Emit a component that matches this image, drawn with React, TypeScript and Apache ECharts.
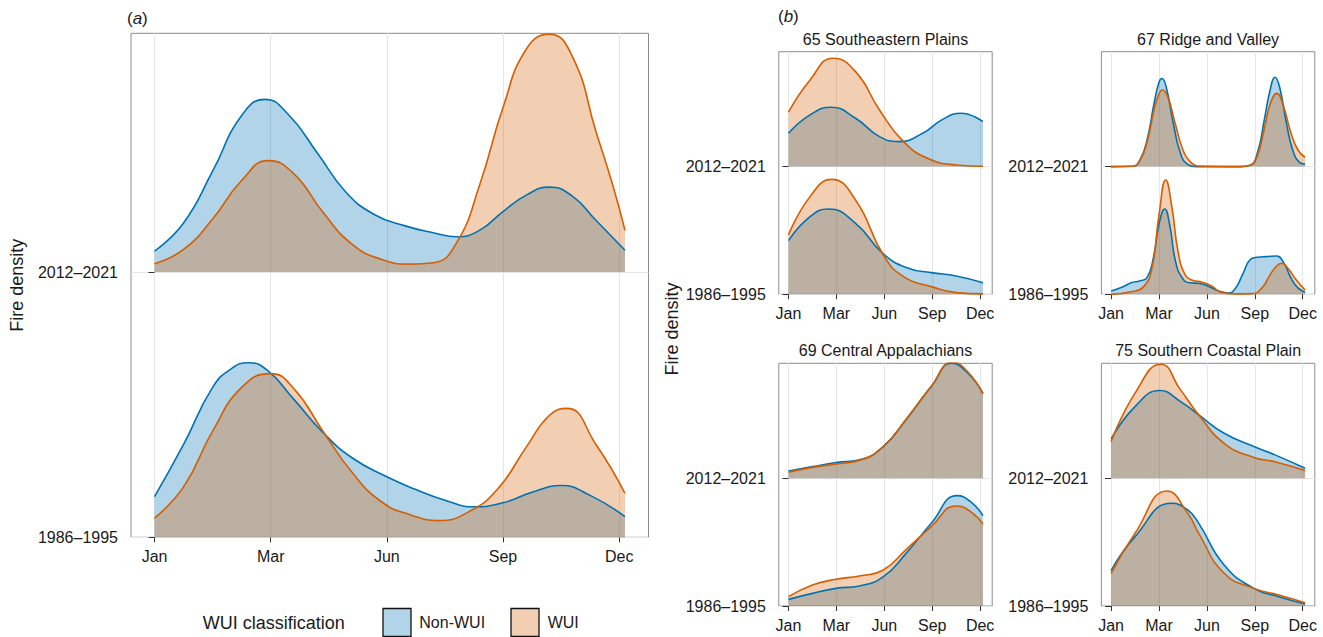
import React, { useEffect, useRef } from 'react';
import * as echarts from 'echarts';

// ---------- data ----------
const monthTicks = ['Jan', 'Mar', 'Jun', 'Sep', 'Dec'];
const tickPositions = [0, 1, 2, 3, 4];
const periods = ['1986–1995', '2012–2021'];
const classes = ['Non-WUI', 'WUI'];
const panelTitles = ['65 Southeastern Plains', '67 Ridge and Valley', '69 Central Appalachians', '75 Southern Coastal Plain'];

// [x position on month scale, density height above ridge baseline]
// Panel (a): all ecoregions
const aEarlyNonWui = [[0, 0.153], [0.25, 0.35], [0.5, 0.565], [0.66, 0.635], [0.81, 0.658], [0.97, 0.63], [1.2, 0.52], [1.45, 0.395], [1.7, 0.3], [2.0, 0.228], [2.25, 0.18], [2.5, 0.14], [2.75, 0.115], [3.0, 0.13], [3.25, 0.17], [3.5, 0.195], [3.75, 0.158], [4.05, 0.078]];
const aEarlyWui = [[0, 0.072], [0.25, 0.19], [0.5, 0.4], [0.75, 0.565], [1.0, 0.617], [1.2, 0.56], [1.45, 0.4], [1.7, 0.245], [1.95, 0.135], [2.2, 0.085], [2.45, 0.063], [2.7, 0.095], [2.95, 0.18], [3.2, 0.34], [3.4, 0.46], [3.55, 0.486], [3.8, 0.35], [4.05, 0.166]];
const aRecentNonWui = [[0, 0.079], [0.25, 0.185], [0.5, 0.38], [0.75, 0.59], [0.95, 0.651], [1.15, 0.595], [1.4, 0.45], [1.65, 0.3], [1.9, 0.215], [2.15, 0.175], [2.4, 0.148], [2.6, 0.133], [2.8, 0.158], [3.0, 0.228], [3.2, 0.29], [3.4, 0.32], [3.6, 0.285], [3.8, 0.195], [4.05, 0.082]];
const aRecentWui = [[0, 0.031], [0.25, 0.085], [0.5, 0.2], [0.75, 0.345], [0.98, 0.42], [1.2, 0.37], [1.45, 0.225], [1.7, 0.105], [1.95, 0.048], [2.2, 0.03], [2.4, 0.035], [2.6, 0.11], [2.8, 0.33], [3.0, 0.62], [3.2, 0.84], [3.4, 0.897], [3.6, 0.81], [3.8, 0.53], [3.95, 0.32], [4.05, 0.157]];

// Panel (b) 65 Southeastern Plains
const p65EarlyNonWui = [[0, 0.42], [0.45, 0.608], [0.83, 0.668], [1.4, 0.556], [1.98, 0.316], [2.5, 0.204], [2.98, 0.17], [3.5, 0.144], [4.06, 0.091]];
const p65EarlyWui = [[0, 0.465], [0.45, 0.765], [0.9, 0.9], [1.4, 0.739], [1.98, 0.308], [2.4, 0.138], [2.98, 0.06], [3.5, 0.013], [4.06, 0.003]];
const p65RecentNonWui = [[0, 0.261], [0.45, 0.405], [0.89, 0.465], [1.4, 0.379], [1.9, 0.235], [2.3, 0.196], [2.8, 0.261], [3.2, 0.366], [3.6, 0.418], [4.06, 0.352]];
const p65RecentWui = [[0, 0.426], [0.45, 0.679], [0.93, 0.849], [1.4, 0.744], [1.9, 0.444], [2.4, 0.196], [2.95, 0.057], [3.5, 0.013], [4.06, 0.003]];

// 67 Ridge and Valley
const p67EarlyNonWui = [[0, 0.026], [0.25, 0.06], [0.42, 0.09], [0.6, 0.105], [0.75, 0.13], [0.88, 0.28], [1.0, 0.55], [1.12, 0.668], [1.22, 0.55], [1.35, 0.25], [1.5, 0.12], [1.65, 0.09], [1.85, 0.085], [2.05, 0.06], [2.25, 0.025], [2.45, 0.01], [2.6, 0.05], [2.75, 0.16], [2.9, 0.27], [3.05, 0.29], [3.25, 0.295], [3.45, 0.3], [3.6, 0.25], [3.75, 0.13], [3.9, 0.05], [4.05, 0.016]];
const p67EarlyWui = [[0, 0], [0.42, 0.02], [0.68, 0.06], [0.85, 0.2], [1.0, 0.62], [1.14, 0.895], [1.27, 0.68], [1.4, 0.33], [1.55, 0.15], [1.7, 0.11], [1.9, 0.095], [2.1, 0.065], [2.3, 0.015], [2.6, 0.003], [2.95, 0.005], [3.15, 0.05], [3.3, 0.14], [3.45, 0.22], [3.56, 0.243], [3.7, 0.2], [3.85, 0.12], [4.05, 0.034]];
const p67RecentNonWui = [[0, 0], [0.45, 0.003], [0.6, 0.049], [0.75, 0.207], [0.9, 0.5], [1.0, 0.66], [1.06, 0.69], [1.15, 0.624], [1.3, 0.336], [1.45, 0.103], [1.6, 0.018], [1.8, 0], [2.7, 0], [2.9, 0.01], [3.05, 0.1], [3.2, 0.37], [3.32, 0.6], [3.42, 0.7], [3.52, 0.62], [3.65, 0.36], [3.8, 0.12], [3.95, 0.03], [4.05, 0.02]];
const p67RecentWui = [[0, 0], [0.45, 0.003], [0.6, 0.05], [0.75, 0.19], [0.9, 0.45], [1.0, 0.57], [1.07, 0.6], [1.18, 0.55], [1.33, 0.35], [1.5, 0.13], [1.65, 0.04], [1.8, 0.005], [2.7, 0], [2.9, 0.01], [3.05, 0.08], [3.2, 0.3], [3.33, 0.5], [3.46, 0.574], [3.6, 0.47], [3.75, 0.27], [3.9, 0.13], [4.05, 0.073]];

// 69 Central Appalachians
const p69EarlyNonWui = [[0, 0.052], [0.5, 0.099], [0.99, 0.138], [1.48, 0.157], [1.98, 0.23], [2.45, 0.41], [2.98, 0.648], [3.52, 0.864], [3.8, 0.817], [4.06, 0.708]];
const p69EarlyWui = [[0, 0.073], [0.5, 0.164], [0.99, 0.209], [1.48, 0.235], [1.98, 0.282], [2.45, 0.44], [2.98, 0.621], [3.5, 0.783], [3.8, 0.739], [4.06, 0.642]];
const p69RecentNonWui = [[0, 0.057], [0.5, 0.091], [0.99, 0.123], [1.48, 0.144], [1.98, 0.248], [2.45, 0.457], [2.98, 0.718], [3.41, 0.9], [3.75, 0.82], [4.06, 0.666]];
const p69RecentWui = [[0, 0.047], [0.5, 0.085], [0.99, 0.112], [1.48, 0.14], [1.98, 0.25], [2.45, 0.46], [2.98, 0.72], [3.43, 0.91], [3.75, 0.83], [4.06, 0.66]];

// 75 Southern Coastal Plain
const p75EarlyNonWui = [[0, 0.277], [0.5, 0.543], [1.26, 0.804], [1.6, 0.752], [1.83, 0.647], [2.36, 0.321], [2.98, 0.138], [3.5, 0.073], [4.05, 0.016]];
const p75EarlyWui = [[0, 0.256], [0.5, 0.569], [1.17, 0.9], [1.6, 0.726], [1.83, 0.569], [2.36, 0.256], [2.98, 0.138], [3.5, 0.086], [4.05, 0.026]];
const p75RecentNonWui = [[0, 0.308], [0.5, 0.561], [1.02, 0.687], [1.45, 0.6], [1.83, 0.496], [2.36, 0.352], [2.98, 0.248], [3.42, 0.183], [4.05, 0.078]];
const p75RecentWui = [[0, 0.287], [0.5, 0.666], [1.04, 0.893], [1.45, 0.692], [1.83, 0.496], [2.36, 0.274], [2.98, 0.162], [3.42, 0.13], [4.05, 0.06]];

// ---------- styling ----------
const FONT = '"Liberation Sans", Arial, Helvetica, sans-serif';
const BLUE = '#0072B2';
const ORANGE = '#D55E00';
const BLUE_FILL = 'rgba(0,114,178,0.3)';
const ORANGE_FILL = 'rgba(213,94,0,0.3)';
const TEXT = '#1a1a1a';

type Pt = number[];
type PanelData = { early: [Pt[], Pt[]]; recent: [Pt[], Pt[]] };

const panels: PanelData[] = [
  { early: [aEarlyNonWui, aEarlyWui], recent: [aRecentNonWui, aRecentWui] },
  { early: [p65EarlyNonWui, p65EarlyWui], recent: [p65RecentNonWui, p65RecentWui] },
  { early: [p67EarlyNonWui, p67EarlyWui], recent: [p67RecentNonWui, p67RecentWui] },
  { early: [p69EarlyNonWui, p69EarlyWui], recent: [p69RecentNonWui, p69RecentWui] },
  { early: [p75EarlyNonWui, p75EarlyWui], recent: [p75RecentNonWui, p75RecentWui] },
];

const gridBoxes = [
  { left: 131, top: 33.3, width: 517.5, height: 504 },
  { left: 778.8, top: 51.7, width: 213.4, height: 242.6 },
  { left: 1101.4, top: 51.7, width: 213.4, height: 242.6 },
  { left: 778.8, top: 363.3, width: 213.4, height: 242.7 },
  { left: 1101.4, top: 363.3, width: 213.4, height: 242.7 },
];

function buildOption() {
  const grid = gridBoxes.map((g) => ({
    ...g,
    show: true,
    borderColor: '#8c8c8c',
    borderWidth: 1,
    backgroundColor: 'transparent',
    containLabel: false,
  }));

  const xAxis = gridBoxes.map((_, i) => ({
    type: 'value',
    gridIndex: i,
    min: -0.2025,
    max: 4.2525,
    axisLine: { show: false },
    axisTick: { show: true, customValues: tickPositions, length: 5, lineStyle: { color: '#333', width: 1 } },
    axisLabel: {
      customValues: tickPositions,
      formatter: (v: number) => monthTicks[tickPositions.indexOf(Math.round(v))] ?? '',
      fontSize: 16,
      fontFamily: FONT,
      color: TEXT,
      margin: 11,
    },
    splitLine: { show: true, lineStyle: { color: '#e6e6e6', width: 1 } },
  }));

  const yAxis = gridBoxes.map((_, i) => ({
    type: 'value',
    gridIndex: i,
    min: 0,
    max: 1.9,
    axisLine: { show: false },
    axisTick: { show: true, customValues: [0, 1], length: 6, lineStyle: { color: '#333', width: 1 } },
    axisLabel: {
      customValues: [0, 1],
      formatter: (v: number) => periods[Math.round(v)] ?? '',
      fontSize: 16,
      fontFamily: FONT,
      color: TEXT,
      margin: 13,
    },
    splitLine: { show: true, lineStyle: { color: '#e6e6e6', width: 1 } },
  }));

  const series: any[] = [];
  panels.forEach((p, gi) => {
    const ridges: [number, [Pt[], Pt[]]][] = [[0, p.early], [1, p.recent]];
    ridges.forEach(([base, pair]) => {
      pair.forEach((pts, ci) => {
        series.push({
          type: 'line',
          name: classes[ci],
          xAxisIndex: gi,
          yAxisIndex: gi,
          data: pts.map(([x, h]) => [x, base + h]),
          smooth: 0.5,
          symbol: 'none',
          silent: true,
          lineStyle: { color: ci === 0 ? BLUE : ORANGE, width: 1.6 },
          itemStyle: { color: ci === 0 ? BLUE : ORANGE },
          areaStyle: { color: ci === 0 ? BLUE_FILL : ORANGE_FILL, opacity: 1, origin: base },
        });
      });
    });
  });

  const titleCenters = [
    [885.5, 39.3],
    [1208.1, 39.3],
    [885.5, 350.3],
    [1208.1, 350.3],
  ];

  const graphic: any[] = [
    {
      type: 'text', x: 127, y: 18,
      style: { text: '({i|a})', fontSize: 17, fontFamily: FONT, fill: TEXT, verticalAlign: 'middle', align: 'left', rich: { i: { fontStyle: 'italic', fontSize: 17, fontFamily: FONT, fill: TEXT } } },
    },
    {
      type: 'text', x: 778, y: 16.7,
      style: { text: '({i|b})', fontSize: 17, fontFamily: FONT, fill: TEXT, verticalAlign: 'middle', align: 'left', rich: { i: { fontStyle: 'italic', fontSize: 17, fontFamily: FONT, fill: TEXT } } },
    },
    ...panelTitles.map((t, i) => ({
      type: 'text', x: titleCenters[i][0], y: titleCenters[i][1],
      style: { text: t, fontSize: 16, fontFamily: FONT, fill: TEXT, align: 'center', verticalAlign: 'middle' },
    })),
    {
      type: 'text', x: 17, y: 285.3, rotation: Math.PI / 2,
      style: { text: 'Fire density', fontSize: 18, fontFamily: FONT, fill: TEXT, align: 'center', verticalAlign: 'middle' },
    },
    {
      type: 'text', x: 672, y: 329, rotation: Math.PI / 2,
      style: { text: 'Fire density', fontSize: 18, fontFamily: FONT, fill: TEXT, align: 'center', verticalAlign: 'middle' },
    },
    {
      type: 'text', x: 202.7, y: 623,
      style: { text: 'WUI classification', fontSize: 18, fontFamily: FONT, fill: TEXT, align: 'left', verticalAlign: 'middle' },
    },
    {
      type: 'rect', shape: { x: 383, y: 608.5, width: 28, height: 28 },
      style: { fill: BLUE_FILL, stroke: '#111', lineWidth: 1.3 },
    },
    {
      type: 'text', x: 419.3, y: 622.5,
      style: { text: classes[0], fontSize: 16, fontFamily: FONT, fill: TEXT, align: 'left', verticalAlign: 'middle' },
    },
    {
      type: 'rect', shape: { x: 511, y: 608.5, width: 28, height: 28 },
      style: { fill: ORANGE_FILL, stroke: '#111', lineWidth: 1.3 },
    },
    {
      type: 'text', x: 547.7, y: 622.5,
      style: { text: classes[1], fontSize: 16, fontFamily: FONT, fill: TEXT, align: 'left', verticalAlign: 'middle' },
    },
  ];

  return {
    animation: false,
    backgroundColor: '#ffffff',
    textStyle: { fontFamily: FONT },
    grid,
    xAxis,
    yAxis,
    series,
    graphic,
  };
}

export default function App() {
  const ref = useRef<HTMLDivElement>(null);
  useEffect(() => {
    if (!ref.current) return;
    const chart = echarts.init(ref.current, undefined, { renderer: 'svg' });
    chart.setOption(buildOption() as any);
    return () => chart.dispose();
  }, []);
  return (
    <div
      ref={ref}
      style={{ position: 'absolute', left: 0, top: 0, width: 1323, height: 637, background: '#fff' }}
    />
  );
}
